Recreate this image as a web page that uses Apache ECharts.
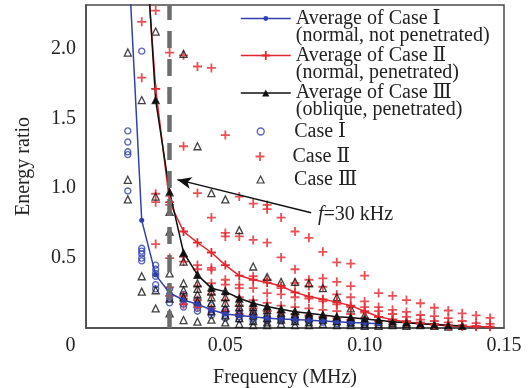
<!DOCTYPE html>
<html><head><meta charset="utf-8">
<script src="https://cdn.jsdelivr.net/npm/echarts/dist/echarts.min.js"></script>
<style>html,body{margin:0;padding:0;background:#fff}#c{width:531px;height:388px}</style>
</head><body><div id="c"></div>
<script>
// ---- tick labels / axis ranges ----
const xTickLabels = ['0', '0.05', '0.10', '0.15'];
const yTickLabels = ['0', '0.5', '1.0', '1.5', '2.0'];
const xRange = [0, 0.15], xStep = 0.05;
const yRange = [0, 2.31], yStep = 0.5;
const markerFreq = 0.031;               // f = 30 kHz dashed line
const arrowFrom = [0.0808, 0.824];      // annotation arrow (data coords)
const arrowTo = [0.0328, 1.061];

// ---- Case I (normal, not penetrated) ----
const caseIFreq = [0.015,0.020,0.025,0.030,0.035,0.040,0.045,0.050,0.055,0.060,0.065,0.070,0.075,0.080,0.085,0.090,0.095,0.100];
const caseIValues = [
  [1.41,1.33,1.26,1.24,0.98],
  [1.98,0.57,0.55,0.53,0.50,0.48],
  [0.45,0.42,0.39,0.37,0.31,0.28],
  [0.28,0.24,0.21,0.18],
  [0.24,0.20,0.17,0.15],
  [0.20,0.17,0.14,0.12],
  [0.16,0.13,0.11,0.09],
  [0.13,0.11,0.09,0.07],
  [0.12,0.10,0.08,0.06],
  [0.11,0.09,0.07,0.05],
  [0.09,0.07,0.05],
  [0.08,0.065,0.05],
  [0.075,0.06,0.045],
  [0.07,0.055,0.04],
  [0.06,0.05,0.04],
  [0.055,0.045,0.03],
  [0.05,0.04,0.03],
  [0.045,0.035,0.02]
];
const avgIFreq = [0.015,0.020,0.025,0.030,0.035,0.040,0.045,0.050,0.055,0.060,0.065,0.070,0.075,0.080,0.085,0.090,0.095,0.100,0.105];
const avgI = [2.73,0.77,0.38,0.25,0.20,0.17,0.13,0.10,0.09,0.08,0.07,0.065,0.06,0.055,0.05,0.045,0.04,0.035,0.03];

// ---- Case II (normal, penetrated) ----
const caseIIFreq = [0.020,0.025,0.030,0.035,0.040,0.045,0.050,0.055,0.060,0.065,0.070,0.075,0.080,0.085,0.090,0.095,0.100,0.105,0.110,0.115,0.120,0.125,0.130,0.135,0.140,0.145];
const caseIIValues = [
  [2.19,1.79],
  [2.27,0.96,0.90,0.60],
  [1.97,0.88,0.50,0.29,0.23],
  [1.95,1.30,0.51,0.475,0.23,0.21,0.17],
  [1.87,0.965,0.45,0.42,0.30,0.20,0.15],
  [1.86,0.79,0.43,0.415,0.32,0.24,0.14],
  [1.38,0.68,0.655,0.345,0.31,0.20,0.12],
  [0.94,0.655,0.31,0.285,0.22,0.16,0.10],
  [0.89,0.63,0.37,0.285,0.20,0.14,0.09],
  [0.88,0.85,0.61,0.345,0.25,0.18,0.12],
  [0.79,0.505,0.285,0.24,0.16,0.11],
  [0.69,0.42,0.32,0.22,0.15,0.10],
  [0.645,0.345,0.30,0.21,0.14,0.09],
  [0.545,0.355,0.295,0.19,0.13,0.08],
  [0.47,0.33,0.24,0.17,0.12,0.07],
  [0.46,0.30,0.22,0.15,0.10,0.06],
  [0.375,0.19,0.15,0.11,0.07],
  [0.25,0.15,0.12,0.08,0.05],
  [0.23,0.13,0.10,0.06,0.04],
  [0.20,0.115,0.08,0.05],
  [0.177,0.093,0.06,0.04],
  [0.145,0.085,0.05,0.03],
  [0.125,0.07,0.04,0.02],
  [0.105,0.05,0.02],
  [0.09,0.035,0.015],
  [0.072,0.03]
];
const avgIIFreq = caseIIFreq;
const avgII = [3.10,1.71,0.90,0.69,0.61,0.54,0.45,0.375,0.345,0.325,0.30,0.255,0.225,0.205,0.185,0.16,0.12,0.08,0.06,0.042,0.032,0.024,0.016,0.012,0.010,0.009];

// ---- Case III (oblique, penetrated) ----
const caseIIIFreq = [0.015,0.020,0.025,0.030,0.035,0.040,0.045,0.050,0.055,0.060,0.065,0.070,0.075,0.080,0.085,0.090,0.095,0.100,0.105,0.110,0.115,0.120,0.125,0.130,0.135];
const caseIIIValues = [
  [1.97,1.06,0.92],
  [1.63,0.37,0.26],
  [2.12,1.63,0.94,0.27,0.14],
  [0.97,0.83,0.69,0.39,0.21,0.105],
  [1.96,0.535,0.475,0.32,0.27,0.22,0.057],
  [1.30,0.38,0.32,0.28,0.24,0.19,0.045],
  [0.965,0.29,0.26,0.22,0.18,0.12,0.06],
  [0.92,0.265,0.22,0.18,0.14,0.09,0.04],
  [0.70,0.21,0.18,0.15,0.11,0.07,0.03],
  [0.44,0.18,0.15,0.12,0.09,0.05,0.02],
  [0.365,0.155,0.13,0.10,0.07,0.04,0.02],
  [0.33,0.135,0.11,0.09,0.06,0.03],
  [0.33,0.12,0.10,0.08,0.05,0.02],
  [0.32,0.105,0.09,0.07,0.04,0.02],
  [0.285,0.095,0.08,0.06,0.03],
  [0.22,0.08,0.07,0.05,0.02],
  [0.14,0.075,0.06,0.04,0.02],
  [0.093,0.065,0.05,0.03,0.015],
  [0.06,0.045,0.03,0.015],
  [0.05,0.035,0.02],
  [0.04,0.03,0.015],
  [0.03,0.02],
  [0.025,0.015],
  [0.02,0.01],
  [0.015]
];
const avgIIIFreq = [0.020,0.025,0.030,0.035,0.040,0.045,0.050,0.055,0.060,0.065,0.070,0.075,0.080,0.085,0.090,0.095,0.100,0.105,0.110,0.115,0.120,0.125,0.130,0.135];
const avgIII = [3.22,1.63,0.975,0.54,0.38,0.285,0.26,0.213,0.177,0.153,0.134,0.117,0.105,0.093,0.081,0.075,0.065,0.055,0.045,0.038,0.030,0.025,0.020,0.015];

const seriesNames = ['Average of Case Ⅰ','Average of Case Ⅱ','Average of Case Ⅲ','Case Ⅰ','Case Ⅱ','Case Ⅲ'];
const legendNotes = ['(normal, not penetrated)','(normal, penetrated)','(oblique, penetrated)'];

// ---- build ----
const FONT = '"Liberation Serif","Times New Roman","DejaVu Serif",serif';
const TXT = '#222';
const BLUE = '#3140ad', RED = '#e3262d', BLACK = '#111';
const PLUS = 'path://M0,4H10V6H0Z M4,0H6V10H4Z';

function flatten(freq, vals) {
  const out = [];
  freq.forEach((f, i) => vals[i].forEach(v => out.push([f, v])));
  return out;
}
function pairs(freq, vals) { return freq.map((f, i) => [f, vals[i]]); }

const chart = echarts.init(document.getElementById('c'), null, {renderer: 'canvas'});

const LH = 17;
const baseText = {fontFamily: FONT, fontSize: 20, color: TXT, lineHeight: LH};
function lineLegend(i, c, ih) {
  return {
    padding: 0, selectedMode: false, orient: 'vertical',
    data: [seriesNames[i]], left: 240, top: c - 1.5 * LH,
    itemWidth: 50, itemHeight: ih, itemGap: 0,
    formatter: n => ' \n' + n + '\n' + legendNotes[i],
    lineStyle: {width: 1.5},
    textStyle: baseText
  };
}
function ptLegend(i, c, ih, bw) {
  return {
    padding: 0, selectedMode: false, orient: 'vertical',
    data: [seriesNames[i]], left: 260 - ih / 2, top: c - LH / 2,
    itemWidth: ih, itemHeight: ih,
    itemStyle: {borderWidth: bw},
    formatter: n => '{g|}{t|' + n + '}',
    textStyle: Object.assign({}, baseText, {
      rich: {g: {width: 32 - ih, height: LH}, t: baseText}
    })
  };
}

const option = {
  animation: false,
  backgroundColor: '#fff',
  grid: {left: 86, right: 27, top: 5, bottom: 60, show: true, borderColor: '#4a4a4a', borderWidth: 1.5, outerBoundsMode: 'none'},
  xAxis: {
    type: 'value', min: xRange[0], max: xRange[1], interval: xStep,
    name: 'Frequency (MHz)', nameLocation: 'middle', nameGap: 40, nameMoveOverlap: false,
    nameTextStyle: {fontFamily: FONT, fontSize: 20, color: TXT, padding: [0, 20, 0, 0]},
    axisLine: {show: true, lineStyle: {color: '#4a4a4a', width: 1.5}},
    axisTick: {show: false}, splitLine: {show: false},
    axisLabel: {
      fontFamily: FONT, fontSize: 20, color: TXT, margin: 8,
      showMaxLabel: true, showMinLabel: true,
      formatter: v => {
        const idx = Math.round(v / xStep);
        const t = xTickLabels[idx] || '';
        return idx === 0 ? '{z|' + t + '}' : t;
      },
      rich: {z: {fontFamily: FONT, fontSize: 20, color: TXT, padding: [0, 31, 0, 0]}}
    }
  },
  yAxis: {
    type: 'value', min: yRange[0], max: yRange[1], interval: yStep,
    name: 'Energy ratio', nameLocation: 'middle', nameGap: 52, nameRotate: 90, nameMoveOverlap: false,
    nameTextStyle: {fontFamily: FONT, fontSize: 20, color: TXT},
    axisLine: {show: true, lineStyle: {color: '#4a4a4a', width: 1.5}},
    axisTick: {show: false}, splitLine: {show: false},
    axisLabel: {
      fontFamily: FONT, fontSize: 20, color: TXT, margin: 10,
      formatter: v => {
        const idx = Math.round(v / yStep);
        if (idx === 0 || Math.abs(v - idx * yStep) > 1e-6) return '';
        return yTickLabels[idx] || '';
      }
    }
  },
  legend: [
    lineLegend(0, 17, 6),
    lineLegend(1, 54, 11),
    lineLegend(2, 91.5, 9),
    ptLegend(3, 130, 7, 1.4),
    ptLegend(4, 155, 9, 0),
    ptLegend(5, 178, 7, 1.2)
  ],
  series: [
    {
      name: seriesNames[3], type: 'scatter', data: flatten(caseIFreq, caseIValues),
      symbol: 'circle', symbolSize: 6, clip: true,
      itemStyle: {color: 'rgba(255,255,255,0)', borderColor: BLUE, borderWidth: 1.4}
    },
    {
      name: seriesNames[4], type: 'scatter', data: flatten(caseIIFreq, caseIIValues),
      symbol: PLUS, symbolSize: 9, clip: true,
      itemStyle: {color: RED}
    },
    {
      name: seriesNames[5], type: 'scatter', data: flatten(caseIIIFreq, caseIIIValues),
      symbol: 'triangle', symbolSize: 7, symbolKeepAspect: true, clip: true,
      itemStyle: {color: 'rgba(255,255,255,0)', borderColor: BLACK, borderWidth: 1.3}
    },
    {
      name: seriesNames[0], type: 'line', data: pairs(avgIFreq, avgI), clip: true,
      symbol: 'circle', symbolSize: 5, showSymbol: true,
      lineStyle: {color: BLUE, width: 1.5}, itemStyle: {color: BLUE}
    },
    {
      name: seriesNames[1], type: 'line', data: pairs(avgIIFreq, avgII), clip: true,
      symbol: PLUS, symbolSize: 9, showSymbol: true,
      lineStyle: {color: RED, width: 1.5}, itemStyle: {color: RED}
    },
    {
      name: seriesNames[2], type: 'line', data: pairs(avgIIIFreq, avgIII), clip: true,
      symbol: 'triangle', symbolSize: 7, showSymbol: true,
      lineStyle: {color: BLACK, width: 1.5}, itemStyle: {color: BLACK},
      markLine: {
        silent: true, animation: false, symbol: ['none', 'none'],
        label: {show: false},
        data: [
          {xAxis: markerFreq, lineStyle: {color: '#6d6d6d', width: 4.5, type: [17, 11]}, label: {show: false}},
          [
            {coord: arrowFrom, symbol: 'none',
             lineStyle: {color: BLACK, width: 1.5, type: 'solid'},
             label: {show: true, position: 'start', distance: 7,
                     formatter: '{i|f}{n|=30 kHz}',
                     rich: {i: {fontFamily: FONT, fontSize: 20, fontStyle: 'italic', color: TXT},
                            n: {fontFamily: FONT, fontSize: 20, color: TXT}}}},
            {coord: arrowTo, symbol: 'arrow', symbolSize: [9, 14]}
          ]
        ]
      }
    }
  ]
};
chart.setOption(option);
</script>
</body></html>
